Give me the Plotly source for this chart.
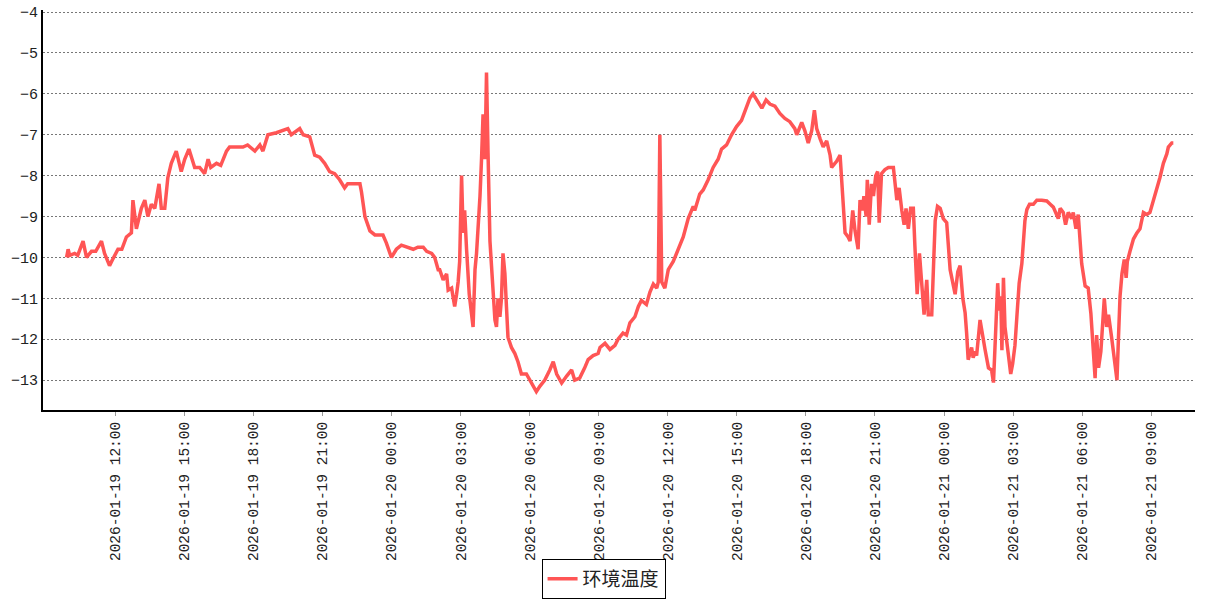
import pandas as pd
import plotly.graph_objects as go

# Sample times: minutes after 2026-01-19 12:00
minutes = [
    -128, -124, -120, -107, -99, -94, -85, -76, -63, -52, -37, -29, -16, -8, 6, 16, 28, 41, 45, 54,
    67, 76, 84, 93, 102, 113, 119, 128, 136, 145, 158, 171, 180, 191, 206, 219, 232, 241, 248, 263,
    274, 289, 297, 313, 332, 344, 363, 376,
    384, 397, 419, 449, 458, 480, 489, 506, 519, 532, 545, 558, 571, 584, 597, 605, 615, 637, 641, 650,
    663, 676, 697, 706, 719, 732, 745, 759, 776, 788, 802, 811, 824, 832, 841,
    845, 854, 863, 867, 876, 884, 889, 893, 897, 902, 906, 910, 915, 922, 932, 937, 941, 945, 950, 954,
    958, 963, 967, 971, 976, 980, 984, 989, 993, 997, 1002, 1006, 1010, 1015, 1019, 1023, 1032, 1041,
    1049, 1058, 1071, 1080, 1089, 1097, 1106, 1119, 1132, 1141, 1150, 1163,
    1176, 1189, 1197, 1210, 1223, 1232, 1245, 1258, 1263, 1276, 1289, 1302, 1310, 1323, 1332, 1341,
    1354, 1363, 1371, 1384, 1393, 1402, 1411, 1415, 1419, 1424, 1432, 1441, 1454, 1467, 1480, 1493,
    1506, 1510, 1523, 1532, 1545, 1558, 1571, 1580, 1593, 1606, 1619, 1632,
    1641, 1654, 1662, 1672, 1685, 1696, 1706, 1719,
    1732, 1745, 1758, 1771, 1776, 1789, 1797, 1806, 1815, 1822, 1828, 1837, 1845, 1854, 1863, 1867,
    1880, 1889, 1893, 1897, 1902, 1910, 1915, 1922, 1928, 1936, 1941, 1948, 1951, 1957, 1960, 1965,
    1971, 1976, 1982, 1987, 1991, 1997, 2006, 2015, 2028, 2037, 2043, 2050, 2056, 2061, 2067, 2073,
    2080, 2084, 2090, 2096, 2102, 2108, 2115, 2119, 2128, 2132, 2137, 2143, 2150, 2158, 2167, 2176,
    2183, 2189, 2196, 2202, 2209, 2215, 2219, 2223,
    2232, 2236, 2241, 2245, 2254, 2263, 2267, 2276, 2284, 2289, 2293, 2297, 2300, 2304, 2308, 2311,
    2315, 2319, 2324, 2330, 2334, 2339, 2345, 2350, 2356, 2363, 2367, 2371, 2376, 2383, 2393, 2402,
    2415, 2428, 2437, 2445, 2458, 2463, 2471, 2477, 2484, 2493, 2497, 2504, 2510, 2519, 2528, 2536,
    2543, 2549, 2554, 2558, 2563, 2569, 2574, 2578, 2584, 2589, 2597, 2603, 2608, 2611, 2615, 2619,
    2624, 2630, 2635, 2638, 2645, 2654, 2663, 2671, 2680, 2689, 2697, 2706, 2715, 2723, 2732, 2741,
    2745, 2754, 2758,
]

# 环境温度 (°C)
temperature = [
    -10.0, -9.8, -9.95, -9.9, -9.95, -9.8, -9.6, -10.0, -9.85, -9.85, -9.6, -9.9, -10.2, -10.05, -9.8, -9.8, -9.5, -9.4, -8.6, -9.3,
    -8.8, -8.6, -9.0, -8.7, -8.8, -8.2, -8.8, -8.8, -8.05, -7.7, -7.4, -7.9, -7.6, -7.35, -7.8, -7.8, -7.95, -7.6, -7.8, -7.7,
    -7.75, -7.4, -7.3, -7.3, -7.3, -7.25, -7.4, -7.25,
    -7.4, -7.0, -6.95, -6.85, -7.0, -6.85, -7.0, -7.05, -7.5, -7.55, -7.7, -7.9, -7.95, -8.1, -8.3, -8.2, -8.2, -8.2, -8.4, -9.0,
    -9.35, -9.45, -9.45, -9.65, -10.0, -9.8, -9.7, -9.75, -9.8, -9.75, -9.75, -9.85, -9.9, -10.0, -10.3,
    -10.3, -10.55, -10.4, -10.8, -10.75, -11.2, -10.9, -10.6, -10.1, -8.0, -9.4, -8.85, -9.8, -10.9, -11.7, -10.3, -9.9, -9.4, -8.5, -7.6,
    -6.5, -7.6, -5.48, -7.45, -9.6, -10.2, -10.9, -11.53, -11.7, -11.0, -11.45, -11.0, -9.9, -10.4, -11.2, -11.95, -12.2, -12.35,
    -12.55, -12.85, -12.85, -13.0, -13.16, -13.28, -13.15, -13.0, -12.75, -12.55, -12.85, -13.07,
    -12.9, -12.75, -13.0, -12.95, -12.7, -12.5, -12.4, -12.35, -12.2, -12.1, -12.25, -12.15, -12.0, -11.85, -11.9, -11.6,
    -11.45, -11.2, -11.05, -11.15, -10.85, -10.65, -10.75, -10.6, -7.0, -10.6, -10.75, -10.3, -10.1, -9.8, -9.5, -9.05,
    -8.75, -8.85, -8.45, -8.35, -8.1, -7.8, -7.6, -7.35, -7.25, -7.0, -6.8, -6.65,
    -6.4, -6.1, -6.0, -6.15, -6.35, -6.15, -6.25, -6.3,
    -6.48, -6.6, -6.68, -6.85, -7.0, -6.7, -6.9, -7.2, -6.9, -6.4, -6.85, -7.1, -7.3, -7.15, -7.5, -7.8,
    -7.65, -7.5, -8.15, -8.75, -9.4, -9.5, -9.6, -8.85, -9.35, -9.8, -8.6, -8.85, -8.5, -9.0, -8.1, -9.2,
    -8.2, -8.5, -8.0, -7.9, -9.15, -7.95, -7.85, -7.8, -7.8, -8.6, -8.3, -8.85, -9.2, -8.8, -9.3, -8.8,
    -8.8, -9.7, -10.9, -9.9, -10.7, -11.4, -10.55, -11.4, -11.4, -10.3, -9.1, -8.75, -8.8, -9.05, -9.15, -10.3,
    -10.6, -10.9, -10.35, -10.2, -11.0, -11.35, -11.85, -12.5,
    -12.2, -12.45, -12.3, -12.4, -11.53, -12.1, -12.25, -12.7, -12.75, -13.06, -12.27, -11.45, -10.63, -11.3, -10.95, -12.27,
    -10.5, -11.7, -12.1, -12.6, -12.85, -12.6, -12.15, -11.45, -10.63, -10.15, -9.5, -9.1, -8.83, -8.7, -8.7, -8.6,
    -8.6, -8.62, -8.7, -8.77, -9.05, -8.8, -8.9, -9.2, -8.9, -9.05, -8.9, -9.3, -8.95, -10.15, -10.7, -10.75,
    -11.37, -12.1, -12.95, -11.9, -12.7, -12.3, -11.6, -11.0, -11.7, -11.4, -11.95, -12.45, -12.8, -13.0, -11.95, -10.95,
    -10.4, -10.05, -10.5, -10.1, -9.85, -9.55, -9.4, -9.3, -8.9, -8.95, -8.9, -8.62, -8.33, -8.05, -7.7, -7.47,
    -7.3, -7.2, -7.2,
]

series_name = "环境温度"
base_time = pd.Timestamp("2026-01-19 12:00")
times = [base_time + pd.Timedelta(minutes=m) for m in minutes]

x_tick_labels = [
    "2026-01-19 12:00", "2026-01-19 15:00", "2026-01-19 18:00", "2026-01-19 21:00",
    "2026-01-20 00:00", "2026-01-20 03:00", "2026-01-20 06:00", "2026-01-20 09:00",
    "2026-01-20 12:00", "2026-01-20 15:00", "2026-01-20 18:00", "2026-01-20 21:00",
    "2026-01-21 00:00", "2026-01-21 03:00", "2026-01-21 06:00", "2026-01-21 09:00",
]
y_ticks = [-4, -5, -6, -7, -8, -9, -10, -11, -12, -13]

fig = go.Figure()
fig.add_trace(go.Scatter(
    x=times, y=temperature, mode="lines", name=series_name,
    line=dict(color="#FF5555", width=3.5),
    showlegend=True,
))

tick_font = dict(family="Liberation Mono, DejaVu Sans Mono, monospace", size=14.5, color="#222222")
y_tick_font = dict(family="Liberation Mono, DejaVu Sans Mono, monospace", size=15, color="#222222")

fig.update_layout(
    width=1207, height=600,
    paper_bgcolor="white", plot_bgcolor="white",
    margin=dict(l=43, r=12, t=10, b=190, autoexpand=False),
    showlegend=True,
    legend=dict(
        orientation="h", x=0.4866, xanchor="center", y=-0.4725, yanchor="bottom",
        bordercolor="#000000", borderwidth=1, bgcolor="white",
        font=dict(family="Noto Sans CJK SC, sans-serif", size=19, color="#222222"),
        itemwidth=30,
    ),
    xaxis=dict(
        type="date",
        range=["2026-01-19 08:50:30", "2026-01-21 10:54:30"],
        tickvals=x_tick_labels, ticktext=x_tick_labels,
        tickangle=-90,
        tickfont=tick_font,
        showgrid=False, zeroline=False, automargin=False,
        showline=True, linecolor="#000000", linewidth=2,
        ticks="outside", ticklen=4, tickcolor="#999999",
    ),
    yaxis=dict(
        range=[-13.73, -3.95],
        tickvals=y_ticks,
        tickfont=y_tick_font,
        showgrid=True, gridcolor="#777777", gridwidth=1, griddash="2px,2px",
        zeroline=False, automargin=False, ticklabeloverflow="allow",
        showline=True, linecolor="#000000", linewidth=2,
        ticks="",
    ),
)

# remove the browser's default page margin so the figure sits at the window's corner
fig.write_html(
    "out.html",
    config={"displayModeBar": False},
    post_script="document.body.style.margin='0px';document.body.style.overflow='hidden';",
)
